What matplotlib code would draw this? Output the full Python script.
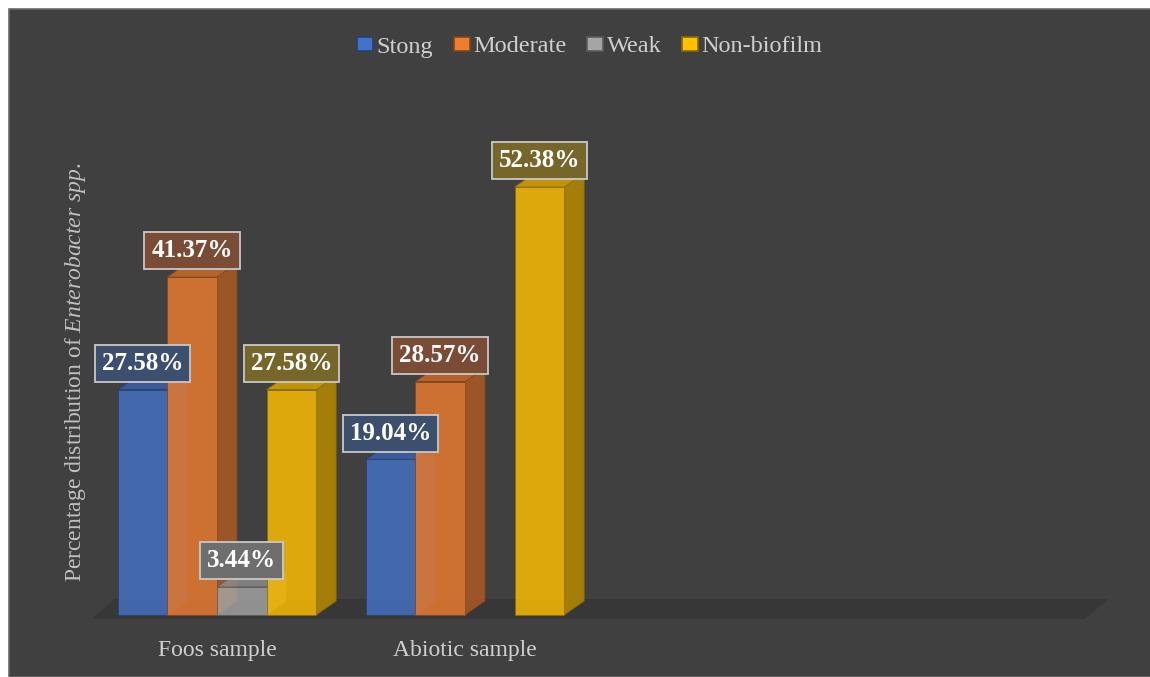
import matplotlib
matplotlib.use("Agg")
import matplotlib.pyplot as plt
from matplotlib.patches import Polygon, Patch, Rectangle
import matplotlib.colors as mcolors
import numpy as np

# ---- data ----
categories = ["Foos sample", "Abiotic sample", "", ""]
series_names = ["Stong", "Moderate", "Weak", "Non-biofilm"]
strong = [27.58, 19.04, None, None]
moderate = [41.37, 28.57, None, None]
weak = [3.44, 0.0, None, None]
non_biofilm = [27.58, 52.38, None, None]
label_texts = {
    "Stong": ["27.58%", "19.04%"],
    "Moderate": ["41.37%", "28.57%"],
    "Weak": ["3.44%", None],
    "Non-biofilm": ["27.58%", "52.38%"],
}
series_values = [strong, moderate, weak, non_biofilm]
ylabel_text = r"Percentage distribution of $\mathit{Enterobacter\ spp.}$"

# ---- styles ----
colors = ["#4472C4", "#ED7D31", "#A5A5A5", "#FFC000"]
label_fc = ["#3d4f6e", "#7a4b35", "#6e6e6e", "#76662a"]
bg = "#404040"
plt.rcParams["font.family"] = ["Liberation Serif", "DejaVu Serif"]
plt.rcParams["mathtext.fontset"] = "custom"
plt.rcParams["mathtext.rm"] = "Liberation Serif"
plt.rcParams["mathtext.it"] = "Liberation Serif:italic"

W, H = 1150, 677
fig = plt.figure(figsize=(W / 100, H / 100), dpi=100, facecolor="white")
fig.patches.append(Rectangle((9 / W, 0), 1.0, 1 - 9 / H, transform=fig.transFigure,
                             facecolor=bg, edgecolor="#6a6a6a", lw=1.2, zorder=-10))

px_per_unit = 8.17
ymin, ymax = -1.0, 59.0
ax = fig.add_axes([93 / W, (H - 615 - (-ymin) * px_per_unit) / H,
                   992 / W, (ymax - ymin) * px_per_unit / H])
ax.set_facecolor("none")
ax.set_zorder(1)
ax.set_xlim(-0.5, 3.5)
ax.set_ylim(ymin, ymax)
for s in ax.spines.values():
    s.set_visible(False)
ax.set_yticks([])

bw = 0.2
dx = 20 / 248.0
dy = 14 / px_per_unit

# floor
floor = Polygon([(-0.5, -0.4), (3.5, -0.4), (3.5 + 1.1 * dx, 1.1 * dy), (-0.5 + 1.1 * dx, 1.1 * dy)],
                closed=True, facecolor="#373737", edgecolor="#363636", lw=0.5, zorder=1,
                clip_on=False)
ax.add_patch(floor)

def shade(c, f):
    r, g, b = mcolors.to_rgb(c)
    return (r * f, g * f, b * f)

x = np.arange(len(categories))
offsets = [-0.3, -0.1, 0.1, 0.3]
z = 2
for gi in range(len(categories)):
    for si, (name, vals) in enumerate(zip(series_names, series_values)):
        v = vals[gi]
        if v is None or v == 0:
            continue
        xc = x[gi] + offsets[si]
        xl, xr = xc - bw / 2, xc + bw / 2
        c = colors[si]
        edge = shade(c, 0.55)
        side = Polygon([(xr, 0), (xr, v), (xr + dx, v + dy), (xr + dx, dy)], closed=True,
                       facecolor=shade(c, 0.72), edgecolor=edge, lw=0.6, alpha=0.85, zorder=z,
                       clip_on=False)
        top = Polygon([(xl, v), (xr, v), (xr + dx, v + dy), (xl + dx, v + dy)], closed=True,
                      facecolor=shade(c, 0.85), edgecolor=edge, lw=0.6, alpha=0.85, zorder=z,
                      clip_on=False)
        ax.add_patch(side)
        ax.add_patch(top)
        ax.bar(xc, v, width=bw, color=c, alpha=0.82, edgecolor=edge, lw=0.6, zorder=z + 0.5)
        z += 1

# labels
for gi in range(2):
    for si, name in enumerate(series_names):
        t = label_texts[name][gi]
        if t is None:
            continue
        v = series_values[si][gi]
        xc = x[gi] + offsets[si]
        ax.annotate(t, (xc, v), xytext=(0, 19), textcoords="offset points",
                    ha="center", va="center", fontsize=18, fontweight="bold", color="white",
                    bbox=dict(boxstyle="square,pad=0.28", fc=label_fc[si], ec="#c8c8c8", lw=1.3),
                    zorder=100, annotation_clip=False)

ax.set_xticks(x)
ax.set_xticklabels(categories, fontsize=17, color="#d0d0d0")
ax.tick_params(axis="x", length=0, pad=12)

fig.text(76 / W, 1 - 372 / H, ylabel_text, rotation=90, ha="center", va="center",
         fontsize=17, color="#c0c0c0")

handles = [Patch(facecolor=c, edgecolor=shade(c, 0.55), lw=1.2) for c in colors]
fig.legend(handles, series_names, loc="center", bbox_to_anchor=(590 / W, 1 - 47 / H), ncol=4,
           frameon=False, fontsize=17.5, labelcolor="#d0d0d0", handlelength=0.65, handleheight=0.5,
           handletextpad=0.15, columnspacing=0.85)

fig.savefig("out.png", dpi=100, facecolor=fig.get_facecolor())
